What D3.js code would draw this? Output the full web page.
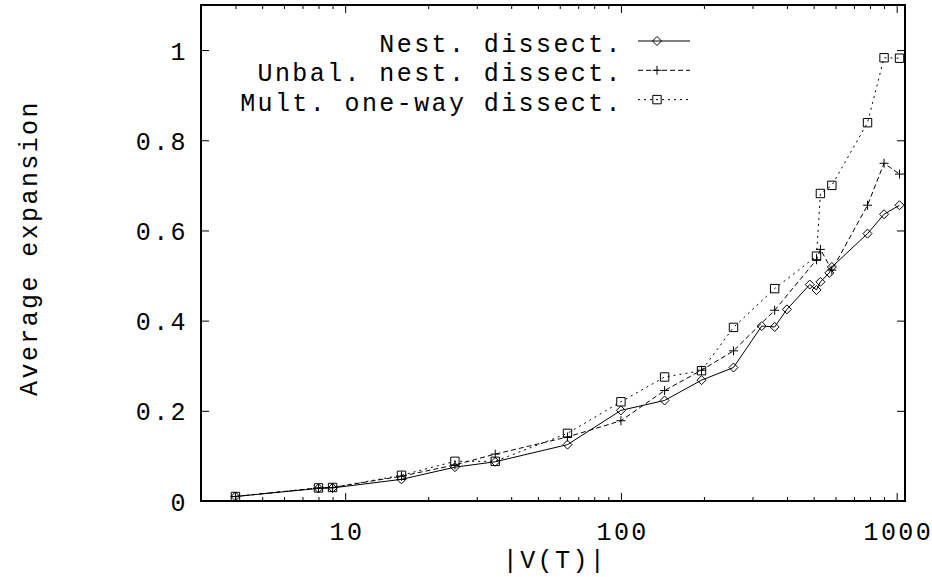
<!DOCTYPE html>
<html>
<head>
<meta charset="utf-8">
<script src="https://cdn.jsdelivr.net/npm/d3@7"></script>
<style>
  body { margin: 0; background: #fff; }
  text { font-family: "Liberation Mono", "Courier New", monospace; letter-spacing: 2.4px; }
</style>
</head>
<body>
<div id="chart"></div>
<script>
// |V(T)| values and average expansion per method
const nestSizes = [4, 8, 9, 16, 25, 35, 64, 100, 144, 196, 256, 324, 361, 400, 484, 512, 529, 570, 582, 784, 900, 1024];
const nestExpansion = [0.010, 0.028, 0.029, 0.048, 0.075, 0.087, 0.125, 0.201, 0.223, 0.268, 0.296, 0.388, 0.386, 0.425, 0.480, 0.468, 0.486, 0.506, 0.519, 0.593, 0.636, 0.656];

const unbalSizes = [4, 8, 9, 16, 25, 35, 64, 100, 144, 196, 256, 361, 512, 529, 582, 784, 900, 1024];
const unbalExpansion = [0.010, 0.029, 0.030, 0.055, 0.080, 0.104, 0.142, 0.178, 0.245, 0.290, 0.333, 0.423, 0.535, 0.558, 0.512, 0.656, 0.749, 0.725];

const multSizes = [4, 8, 9, 16, 25, 35, 64, 100, 144, 196, 256, 361, 512, 529, 582, 784, 900, 1024];
const multExpansion = [0.010, 0.029, 0.030, 0.057, 0.088, 0.088, 0.150, 0.220, 0.275, 0.289, 0.385, 0.471, 0.543, 0.682, 0.700, 0.839, 0.983, 0.982];

const seriesNames = ["Nest. dissect.", "Unbal. nest. dissect.", "Mult. one-way dissect."];
const xMajorTicks = [10, 100, 1000];
const xMinorTicks = [4, 5, 6, 7, 8, 9, 20, 30, 40, 50, 60, 70, 80, 90, 200, 300, 400, 500, 600, 700, 800, 900];
const yTicks = [0, 0.2, 0.4, 0.6, 0.8, 1];

const width = 932;
const height = 577;
const margin = { top: 5, right: 27, bottom: 76, left: 201 };
const fontSize = 25;

const svg = d3.select("#chart")
    .append("svg")
    .attr("width", width)
    .attr("height", height)
    .attr("viewBox", [0, 0, width, height]);

svg.append("rect").attr("width", width).attr("height", height).attr("fill", "#fff");

const x = d3.scaleLog()
    .domain([3, 1072])
    .range([margin.left, width - margin.right]);

const y = d3.scaleLinear()
    .domain([0, 1.1])
    .range([height - margin.bottom, margin.top]);

function cleanAxis(g) {
    g.select(".domain").remove();
    g.attr("font-family", null).attr("font-size", fontSize);
    g.selectAll("line").attr("stroke", "#000");
    g.selectAll("text").attr("fill", "#000");
}

// bottom axis
svg.append("g")
    .attr("transform", `translate(0,${height - margin.bottom})`)
    .call(d3.axisBottom(x).tickValues(xMajorTicks).tickSize(-8).tickFormat(d3.format("d")))
    .call(cleanAxis)
    .call(g => g.selectAll("text").attr("x", 1.2).attr("y", 39).attr("dy", null));

svg.append("g")
    .attr("transform", `translate(0,${height - margin.bottom})`)
    .call(d3.axisBottom(x).tickValues(xMinorTicks).tickSize(-4).tickFormat(""))
    .call(cleanAxis);

// top mirror ticks
svg.append("g")
    .attr("transform", `translate(0,${margin.top})`)
    .call(d3.axisTop(x).tickValues(xMajorTicks).tickSize(-8).tickFormat(""))
    .call(cleanAxis);

svg.append("g")
    .attr("transform", `translate(0,${margin.top})`)
    .call(d3.axisTop(x).tickValues(xMinorTicks).tickSize(-4).tickFormat(""))
    .call(cleanAxis);

// left axis
svg.append("g")
    .attr("transform", `translate(${margin.left},0)`)
    .call(d3.axisLeft(y).tickValues(yTicks).tickSize(-8).tickPadding(13).tickFormat(d3.format("~g")))
    .call(cleanAxis)
    .call(g => g.selectAll("text").attr("dy", "0.36em"));

// right mirror ticks
svg.append("g")
    .attr("transform", `translate(${width - margin.right},0)`)
    .call(d3.axisRight(y).tickValues(yTicks).tickSize(-8).tickFormat(""))
    .call(cleanAxis);

// frame
svg.append("rect")
    .attr("x", margin.left)
    .attr("y", margin.top)
    .attr("width", width - margin.left - margin.right)
    .attr("height", height - margin.top - margin.bottom)
    .attr("fill", "none")
    .attr("stroke", "#000")
    .attr("stroke-width", 2);

// axis titles
svg.append("text")
    .attr("x", 555)
    .attr("y", 568)
    .attr("text-anchor", "middle")
    .attr("font-size", fontSize)
    .text("|V(T)|");

svg.append("text")
    .attr("transform", "translate(37,248) rotate(-90)")
    .attr("text-anchor", "middle")
    .attr("font-size", fontSize)
    .text("Average expansion");

const markers = {
    diamond: "M0,-4.5L4.5,0L0,4.5L-4.5,0Z",
    plus: "M-4.5,0H4.5M0,-4.5V4.5",
    square: "M-4.2,-4.2H4.2V4.2H-4.2Z"
};

const series = [
    { name: seriesNames[0], xs: nestSizes, ys: nestExpansion, dash: null, marker: markers.diamond },
    { name: seriesNames[1], xs: unbalSizes, ys: unbalExpansion, dash: "5,3", marker: markers.plus },
    { name: seriesNames[2], xs: multSizes, ys: multExpansion, dash: "2,4", marker: markers.square }
];

const line = d3.line()
    .x(d => x(d[0]))
    .y(d => y(d[1]));

series.forEach((s, i) => {
    const pts = s.xs.map((v, j) => [v, s.ys[j]]);
    svg.append("path")
        .datum(pts)
        .attr("d", line)
        .attr("fill", "none")
        .attr("stroke", "#000")
        .attr("stroke-width", 1)
        .attr("stroke-dasharray", s.dash);

    svg.append("g")
        .selectAll("path")
        .data(pts)
        .join("path")
        .attr("transform", d => `translate(${x(d[0])},${y(d[1])})`)
        .attr("d", s.marker)
        .attr("fill", "none")
        .attr("stroke", "#000")
        .attr("stroke-width", 1);

    // legend entry
    const base = 52 + i * 29.3;
    svg.append("text")
        .attr("x", 623)
        .attr("y", base)
        .attr("text-anchor", "end")
        .attr("font-size", fontSize)
        .text(s.name);
    svg.append("line")
        .attr("x1", 638).attr("x2", 690)
        .attr("y1", base - 11).attr("y2", base - 11)
        .attr("stroke", "#000")
        .attr("stroke-width", 1)
        .attr("stroke-dasharray", s.dash);
    svg.append("path")
        .attr("transform", `translate(657,${base - 11})`)
        .attr("d", s.marker)
        .attr("fill", "none")
        .attr("stroke", "#000");
});
</script>
</body>
</html>
